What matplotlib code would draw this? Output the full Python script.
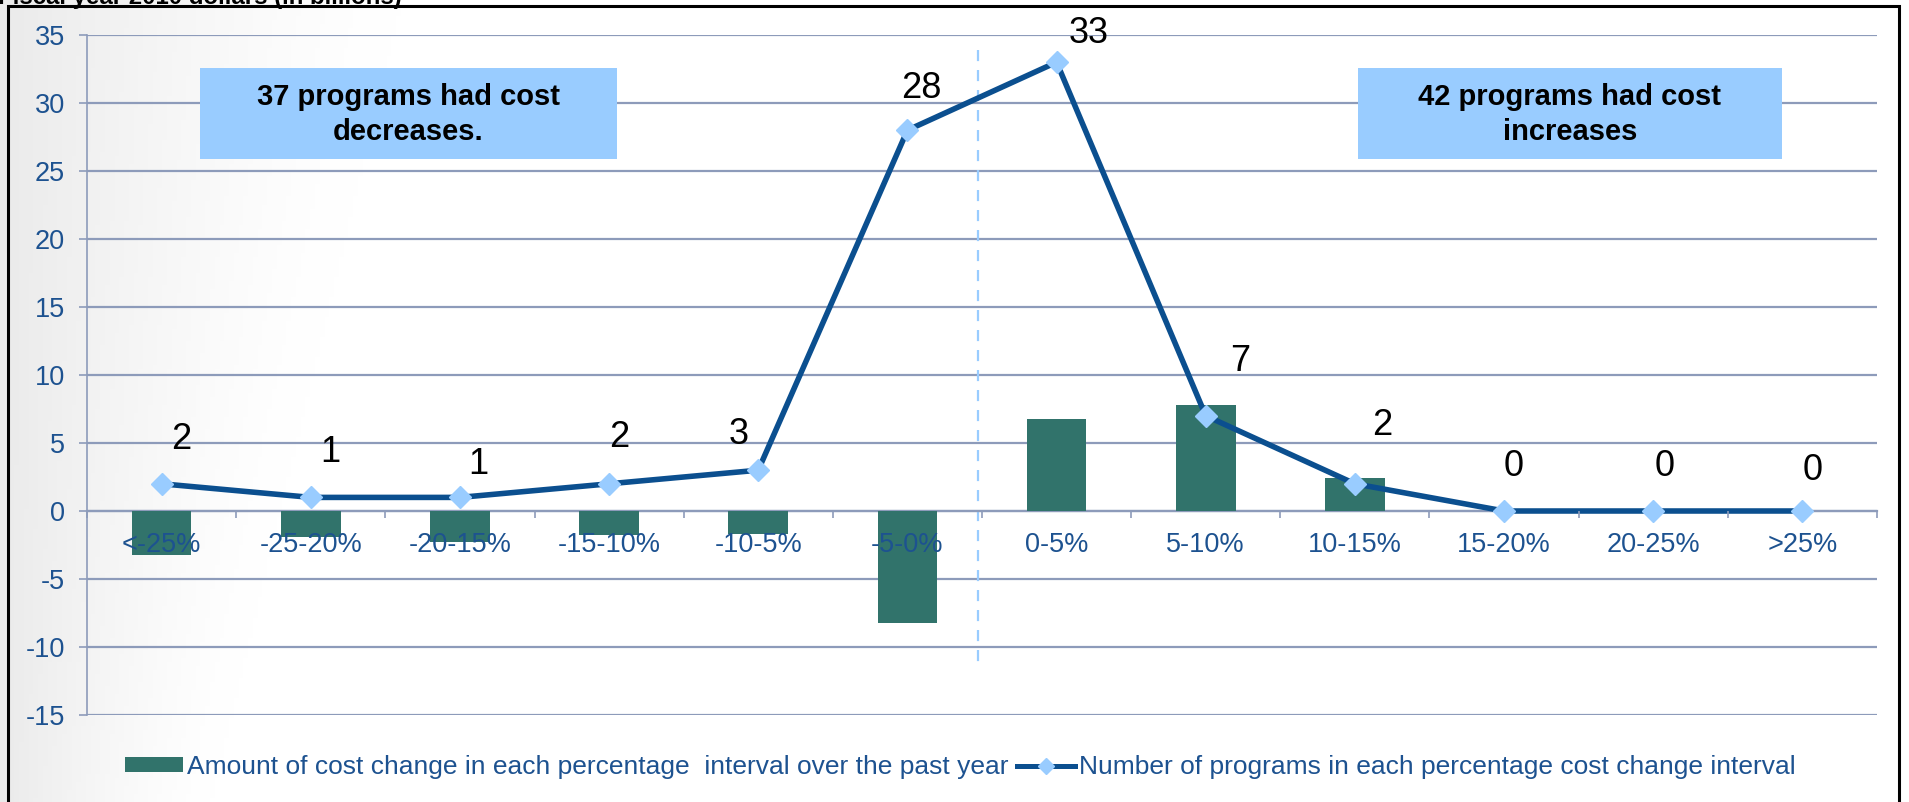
import numpy as np
import matplotlib
matplotlib.use("Agg")
import matplotlib.pyplot as plt
from matplotlib.patches import Rectangle
from matplotlib.lines import Line2D
from matplotlib.patches import Patch

plt.rcParams['font.family'] = ['Liberation Sans', 'DejaVu Sans']
plt.rcParams['axes.unicode_minus'] = False

# data
categories = ['<-25%', '-25-20%', '-20-15%', '-15-10%', '-10-5%', '-5-0%',
              '0-5%', '5-10%', '10-15%', '15-20%', '20-25%', '>25%']
cost_change = [-3.2, -1.9, -2.25, -1.8, -1.7, -8.2, 6.8, 7.8, 2.4, 0, 0, 0]
n_programs = [2, 1, 1, 2, 3, 28, 33, 7, 2, 0, 0, 0]

bar_label = 'Amount of cost change in each percentage  interval over the past year'
line_label = 'Number of programs in each percentage cost change interval'
title_text = 'Fiscal year 2010 dollars (in billions)'
box_left = '37 programs had cost\ndecreases.'
box_right = '42 programs had cost\nincreases'

# hand placed label offsets (points), as in the original
label_dx = [14, 14, 13, 7, -14, 10, 23, 25, 20, 7, 8, 7]
label_dy = [32, 32, 24, 33, 26, 30, 21, 39, 42, 32, 32, 29]

grid_c = '#8D9BBA'
tick_c = '#1D5290'
bar_c = '#31736B'
line_c = '#0B4F8F'
mark_c = '#99CCFF'

fig = plt.figure(figsize=(19.09, 8.02), dpi=100)

# light slide background on the left
bg = fig.add_axes([0, 0, 1, 1], zorder=-5)
xx = np.linspace(0, 1, 400)
yy = np.linspace(0, 1, 200)
X, Y = np.meshgrid(xx, yy)
shade = np.clip(1 - X / (0.11 + 0.10 * Y), 0, 1) ** 1.4
img = 1 - 0.08 * shade
bg.imshow(np.dstack([img, img, img]), extent=[0, 1, 0, 1], aspect='auto',
          origin='lower')
bg.set_xlim(0, 1)
bg.set_ylim(0, 1)
bg.axis('off')

ax = fig.add_axes([87 / 1909, 1 - 715 / 802, 1790 / 1909, 680 / 802])
ax.patch.set_alpha(0)

x = np.arange(len(categories))
ax.bar(x, cost_change, width=0.4, color=bar_c, zorder=3, label=bar_label)
ax.plot(x, n_programs, color=line_c, lw=4.0, marker='D', ms=11,
        mfc=mark_c, mec=mark_c, zorder=4, label=line_label)

for i, v in enumerate(n_programs):
    ax.annotate(str(v), (x[i], v), xytext=(label_dx[i], label_dy[i]),
                textcoords='offset points', ha='center', va='center',
                fontsize=26, color='black', zorder=6)

ax.set_xlim(-0.5, len(categories) - 0.5)
ax.set_ylim(-15, 35)
ax.set_yticks(np.arange(-15, 36, 5))
ax.yaxis.grid(True, color=grid_c, lw=1.6)
ax.yaxis.set_zorder(1)
ax.tick_params(axis='y', direction='out', length=6, width=1.2, color=grid_c,
               labelcolor=tick_c, labelsize=19.5, pad=10)

ax.set_xticks(x)
ax.set_xticklabels(categories)
ax.set_xticks(np.arange(-0.5, len(categories), 1), minor=True)
ax.tick_params(axis='x', which='major', length=0, labelcolor=tick_c,
               labelsize=19.5, pad=15)
ax.tick_params(axis='x', which='minor', direction='out', length=5,
               width=1.2, color=grid_c)
ax.xaxis.set_zorder(5)

ax.spines['bottom'].set_position(('data', 0))
ax.spines['bottom'].set_color(grid_c)
ax.spines['bottom'].set_linewidth(1.6)
ax.spines['left'].set_color(grid_c)
ax.spines['left'].set_linewidth(1.2)
ax.spines['top'].set_visible(False)
ax.spines['right'].set_visible(False)

# dashed divider between decreases and increases
ax.plot([5.47, 5.47], [33.9, -11.5], color=mark_c, lw=1.6, ls=(0, (5, 4)),
        zorder=2)

# note boxes
for (x0, x1, txt) in [(0.257, 3.053, box_left), (8.02, 10.86, box_right)]:
    ax.add_patch(Rectangle((x0, 25.85), x1 - x0, 6.7, facecolor=mark_c,
                           edgecolor='none', zorder=5))
    ax.text((x0 + x1) / 2, 25.85 + 3.3, txt, ha='center', va='center',
            fontsize=21, fontweight='bold', color='black', zorder=6,
            linespacing=1.35)

handles = [Patch(facecolor=bar_c, label=bar_label),
           Line2D([], [], color=line_c, lw=3.6, marker='D', ms=8,
                  mfc=mark_c, mec=mark_c, label=line_label)]
leg = fig.legend(handles=handles, loc='center', ncol=2,
                 bbox_to_anchor=(0.503, 1 - 767 / 802), frameon=False,
                 fontsize=19, handlelength=2.2, handleheight=0.5,
                 handletextpad=0.15, columnspacing=0.3)
for t in leg.get_texts():
    t.set_color(tick_c)

# cut-off title at the top edge
fig.text(-0.001, 1 - 4 / 802, title_text, ha='left', va='baseline',
         fontsize=17.3, fontweight='bold', color='black')

# outer frame of the slide chart
fig.add_artist(Rectangle((8 / 1909, -0.05), 1891 / 1909, 1.05 - 6 / 802,
                         transform=fig.transFigure, fill=False,
                         edgecolor='black', lw=2.2, zorder=10))

fig.savefig('out.png', dpi=100)
